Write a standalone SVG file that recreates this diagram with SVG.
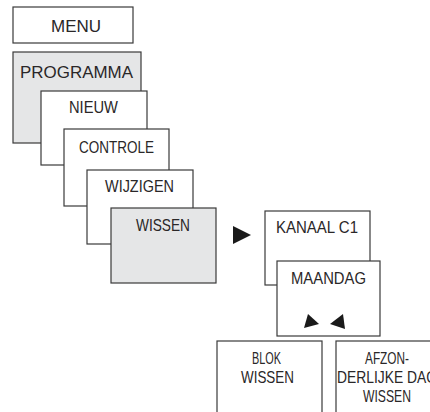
<svg xmlns="http://www.w3.org/2000/svg" width="430" height="412" viewBox="0 0 430 412">
<style>
.b{fill:#fff;stroke:#3a3a3a;stroke-width:1.2}
.g{fill:#e5e6e7;stroke:#3a3a3a;stroke-width:1.2}
text{font-family:"Liberation Sans",Arial,sans-serif;font-size:17px;fill:#2a2728}
.c{text-anchor:middle}
.t{fill:#1a1a1a}
</style>
<rect width="430" height="412" fill="#fff"/>
<g id="menu"><rect class="b" x="13" y="7" width="120" height="36"/><text x="51" y="32" textLength="50" lengthAdjust="spacingAndGlyphs">MENU</text></g>
<g id="programma"><rect class="g" x="13" y="52" width="128" height="91"/><text x="20" y="78" textLength="113" lengthAdjust="spacingAndGlyphs">PROGRAMMA</text></g>
<g id="nieuw"><rect class="b" x="41" y="91" width="106" height="74"/><text x="69" y="113" textLength="49" lengthAdjust="spacingAndGlyphs">NIEUW</text></g>
<g id="controle"><rect class="b" x="64" y="129" width="105" height="77"/><text x="79" y="153" textLength="75" lengthAdjust="spacingAndGlyphs">CONTROLE</text></g>
<g id="wijzigen"><rect class="b" x="87" y="170" width="106" height="74"/><text x="105" y="192" textLength="69" lengthAdjust="spacingAndGlyphs">WIJZIGEN</text></g>
<g id="wissen"><rect class="g" x="111" y="208" width="105" height="75"/><text x="136" y="231" textLength="54" lengthAdjust="spacingAndGlyphs">WISSEN</text></g>
<g id="kanaal"><rect class="b" x="265" y="211" width="105" height="74"/><text x="276" y="233" textLength="82" lengthAdjust="spacingAndGlyphs">KANAAL C1</text></g>
<g id="maandag"><rect class="b" x="277" y="261" width="103" height="75"/><text x="291" y="284" textLength="75" lengthAdjust="spacingAndGlyphs">MAANDAG</text></g>
<g id="blok"><rect class="b" x="217" y="341" width="105" height="80"/><text x="252" y="364" textLength="29" lengthAdjust="spacingAndGlyphs">BLOK</text><text x="241" y="383" textLength="53" lengthAdjust="spacingAndGlyphs">WISSEN</text></g>
<g id="afzon"><rect class="b" x="336" y="341" width="110" height="80"/><text x="365" y="364" textLength="44" lengthAdjust="spacingAndGlyphs">AFZON-</text><text x="337" y="383" textLength="100" lengthAdjust="spacingAndGlyphs">DERLIJKE DAG</text><text x="363" y="402" textLength="48" lengthAdjust="spacingAndGlyphs">WISSEN</text></g>
<g id="connectors">
<polygon class="t" points="233,226 251,235 233,244"/>
<polygon class="t" points="308,314 304,328 319,324"/>
<polygon class="t" points="343,314 345,329 330,324"/>
</g>
</svg>
